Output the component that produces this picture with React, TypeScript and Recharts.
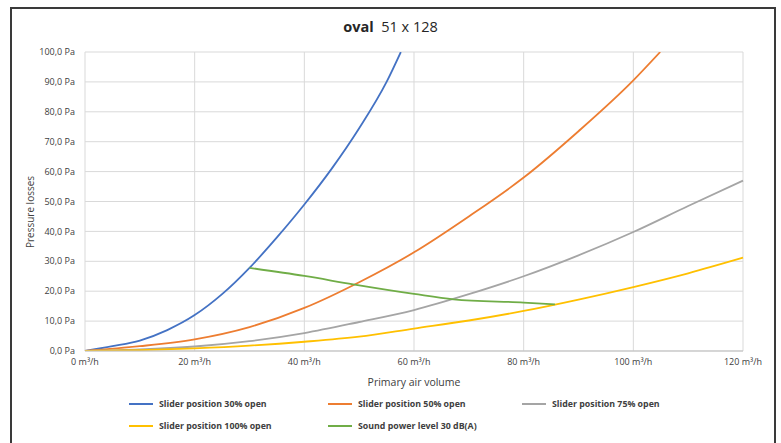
import React from 'react';
import { LineChart, Line, XAxis, YAxis, CartesianGrid } from 'recharts';

const slider30Flow = [0, 5, 10, 15, 20, 25, 30, 35, 40, 45, 50, 55, 57.6];
const slider30Pa = [0, 1.6, 3.5, 7.0, 12.0, 19.0, 27.8, 38.0, 49.0, 61.0, 74.5, 90.0, 100];

const slider50Flow = [0, 10, 20, 30, 40, 50, 60, 70, 80, 90, 100, 104.9];
const slider50Pa = [0, 1.6, 3.9, 8.0, 14.4, 23.0, 33.0, 45.0, 58.0, 73.5, 90.5, 100];

const slider75Flow = [0, 10, 20, 30, 40, 50, 60, 70, 80, 90, 100, 110, 120];
const slider75Pa = [0, 0.5, 1.5, 3.3, 6.0, 9.7, 13.7, 19.0, 25.0, 32.0, 39.8, 48.5, 57.0];

const slider100Flow = [0, 10, 20, 30, 40, 50, 60, 70, 80, 90, 100, 110, 120];
const slider100Pa = [0, 0.3, 0.9, 1.8, 3.1, 4.8, 7.5, 10.2, 13.4, 17.2, 21.4, 26.0, 31.2];

const soundFlow = [30, 40, 48.9, 60, 67.2, 80, 85.7];
const soundPa = [27.8, 25.1, 22.3, 19.1, 17.3, 16.2, 15.6];

const xTicks = [0, 20, 40, 60, 80, 100, 120];
const yTicks = [0, 10, 20, 30, 40, 50, 60, 70, 80, 90, 100];

const seriesNames = [
  'Slider position 30% open',
  'Slider position 50% open',
  'Slider position 75% open',
  'Slider position 100% open',
  'Sound power level 30 dB(A)',
];
const seriesColors = ['#4472C4', '#ED7D31', '#A5A5A5', '#FFC000', '#70AD47'];

const zip = (xs: number[], ys: number[]) => xs.map((x, i) => ({ x, y: ys[i] }));

const series = [
  zip(slider30Flow, slider30Pa),
  zip(slider50Flow, slider50Pa),
  zip(slider75Flow, slider75Pa),
  zip(slider100Flow, slider100Pa),
  zip(soundFlow, soundPa),
];

const FONT = '"Open Sans", "Noto Sans", sans-serif';
const TXT = '#404040';

const legendPos = [
  { left: 129, top: 397 },
  { left: 328, top: 397 },
  { left: 522, top: 397 },
  { left: 129, top: 419 },
  { left: 328, top: 419 },
];

export default function App() {
  return (
    <div style={{ position: 'absolute', left: 0, top: 0, width: 781, height: 443, overflow: 'hidden', background: '#fff', fontFamily: FONT }}>
      <div style={{ position: 'absolute', left: 10, top: 7, width: 766, height: 460, border: '2px solid #3a3a3a', boxSizing: 'border-box' }} />
      <div style={{ position: 'absolute', left: 0, width: 781, top: 17, textAlign: 'center', fontSize: 14.5, color: '#262626', lineHeight: '20px' }}>
        <span style={{ fontWeight: 700 }}>oval</span>
        <span>{'\u00a0\u00a051 x 128'}</span>
      </div>
      <div style={{ position: 'absolute', left: 0, top: 0 }}>
        <LineChart width={781} height={443} margin={{ top: 52, right: 38, bottom: 62, left: 0 }}>
          <CartesianGrid stroke="#d9d9d9" strokeWidth={1} />
          <XAxis
            type="number"
            dataKey="x"
            domain={[0, 120]}
            ticks={xTicks}
            tickFormatter={(v: number) => `${v} m³/h`}
            tickLine={false}
            axisLine={{ stroke: '#bfbfbf' }}
            tickSize={6}
            tickMargin={2}
            height={30}
            tick={{ fontSize: 9, fill: TXT, fontFamily: FONT }}
            allowDuplicatedCategory={false}
          />
          <YAxis
            type="number"
            dataKey="y"
            domain={[0, 100]}
            ticks={yTicks}
            allowDataOverflow
            tickFormatter={(v: number) => `${v.toFixed(1).replace('.', ',')} Pa`}
            tickLine={false}
            axisLine={false}
            tickSize={8}
            tickMargin={2}
            width={85}
            tick={{ fontSize: 9, fill: TXT, fontFamily: FONT }}
          />
          {series.map((d, i) => (
            <Line
              key={seriesNames[i]}
              data={d}
              dataKey="y"
              name={seriesNames[i]}
              type="monotone"
              stroke={seriesColors[i]}
              strokeWidth={1.8}
              dot={false}
              isAnimationActive={false}
            />
          ))}
        </LineChart>
      </div>
      <div style={{ position: 'absolute', left: 0, top: 202, width: 60, height: 20, transform: 'rotate(-90deg)', transformOrigin: 'center', fontSize: 10, color: TXT, textAlign: 'center', whiteSpace: 'nowrap', lineHeight: '20px' }}>
        <div style={{ position: 'absolute', left: -20, width: 100, textAlign: 'center' }}>Pressure losses</div>
      </div>
      <div style={{ position: 'absolute', left: 314, width: 200, top: 374, textAlign: 'center', fontSize: 10.5, color: TXT, lineHeight: '16px' }}>
        Primary air volume
      </div>
      {seriesNames.map((n, i) => (
        <div key={n} style={{ position: 'absolute', left: legendPos[i].left, top: legendPos[i].top, height: 14, display: 'flex', alignItems: 'center', whiteSpace: 'nowrap' }}>
          <div style={{ width: 24, height: 2, background: seriesColors[i], marginRight: 6 }} />
          <span style={{ fontSize: 8.8, fontWeight: 700, color: TXT }}>{n}</span>
        </div>
      ))}
    </div>
  );
}
